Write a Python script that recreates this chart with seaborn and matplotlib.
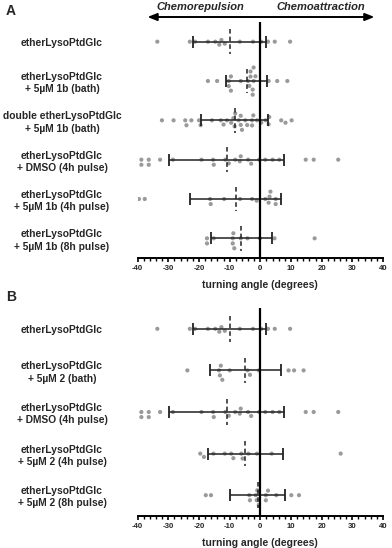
import numpy as np
import pandas as pd
import matplotlib
matplotlib.use("Agg")
import matplotlib.pyplot as plt
import matplotlib.transforms as mtransforms
import seaborn as sns
from matplotlib.ticker import MultipleLocator

sns.set_style("ticks")
plt.rcParams["font.family"] = ["Liberation Sans", "DejaVu Sans"]
plt.rcParams["axes.unicode_minus"] = False

# turning angles (degrees) per condition
control = [-33.6, -23.0, -21.3, -17.1, -14.7, -12.7, -13.4, -11.6, -6.7, -2.4,
           0.3, 2.5, 4.7, 9.7]
bath_1b = [-17.1, -14.1, -10.3, -10.3, -9.6, -9.6, -6.4, -4.0, -3.6, -3.2,
           -3.2, -2.5, -2.5, -2.2, -2.2, -1.6, 2.7, 5.5, 8.8]
double_bath_1b = [-32.1, -28.3, -24.5, -24.1, -22.5, -20.0, -19.5, -15.8, -12.9,
                  -12.0, -10.9, -9.5, -8.8, -8.4, -8.2, -7.1, -6.4, -6.4, -6.0,
                  -4.9, -4.3, -2.7, -2.3, -2.7, -1.1, 0.3, 1.7, 2.9, 2.7, 6.8,
                  8.2, 10.2]
dmso_4h = [-38.8, -38.8, -36.4, -36.4, -32.7, -28.5, -19.2, -15.4, -15.2, -10.3,
           -11.4, -8.2, -6.4, -6.7, -4.0, -3.0, -0.4, 1.6, 4.0, 6.2, 14.8,
           17.4, 25.4]
pulse4h_1b = [-39.6, -37.7, -16.4, -16.2, -11.8, -6.6, -2.7, -1.2, 1.6, 3.0,
              2.7, 3.3, 5.0, 5.0]
pulse8h_1b = [-17.4, -17.4, -15.2, -9.0, -9.0, -8.5, -8.8, -6.4, -4.2, -0.2,
              4.6, 17.7]
bath_2 = [-23.8, -12.9, -13.5, -13.2, -12.4, -10.0, -4.2, -3.4, -0.5, 9.2,
          11.0, 14.1]
pulse4h_2 = [-18.4, -19.6, -15.3, -11.6, -9.5, -8.8, -5.8, -6.2, -3.9, -1.1,
             3.7, 26.2]
pulse8h_2 = [-16.1, -17.8, -3.6, -3.4, -1.2, -1.0, -1.5, -0.5, 1.8, 2.5, 1.8,
             5.2, 10.1, 12.6]

labels_a = [
    "etherLysoPtdGlc",
    "etherLysoPtdGlc\n+ 5µM 1b (bath)",
    "double etherLysoPtdGlc\n+ 5µM 1b (bath)",
    "etherLysoPtdGlc\n+ DMSO (4h pulse)",
    "etherLysoPtdGlc\n+ 5µM 1b (4h pulse)",
    "etherLysoPtdGlc\n+ 5µM 1b (8h pulse)",
]
groups_a = [control, bath_1b, double_bath_1b, dmso_4h, pulse4h_1b, pulse8h_1b]
means_a = [-10.0, -4.5, -8.4, -11.0, -8.0, -6.2]
sds_a = [12.0, 6.6, 10.9, 18.7, 14.8, 9.9]

labels_b = [
    "etherLysoPtdGlc",
    "etherLysoPtdGlc\n+ 5µM 2 (bath)",
    "etherLysoPtdGlc\n+ DMSO (4h pulse)",
    "etherLysoPtdGlc\n+ 5µM 2 (4h pulse)",
    "etherLysoPtdGlc\n+ 5µM 2 (8h pulse)",
]
groups_b = [control, bath_2, dmso_4h, pulse4h_2, pulse8h_2]
means_b = [-10.0, -4.9, -11.0, -4.9, -0.8]
sds_b = [12.0, 11.5, 18.7, 12.2, 9.0]

x_ticks = [-40, -30, -20, -10, 0, 10, 20, 30, 40]

W, H = 392, 548


def draw_panel(ax, labels, groups, means, sds):
    df = pd.DataFrame({
        "group": [lab for lab, g in zip(labels, groups) for _ in g],
        "angle": [v for g in groups for v in g],
    })
    sns.swarmplot(data=df, x="angle", y="group", order=labels, orient="h",
                  color="#9a9a9a", size=3.0, linewidth=0.5, edgecolor="none",
                  ax=ax, zorder=2)

    pos = np.arange(len(labels))
    ax.errorbar(means, pos, xerr=sds, fmt="none", ecolor="#222222",
                elinewidth=1.1, capsize=4.6, capthick=1.3, zorder=4)
    ax.vlines(means, pos - 0.31, pos + 0.31, colors="#222222",
              linestyles=(0, (3, 2)), linewidth=1.1, zorder=4)
    ax.axvline(0, color="black", lw=1.6, zorder=5)

    ax.set_xlim(-40, 40)
    ax.set_ylim(len(labels) - 0.5, -0.5)
    ax.set_xticks(x_ticks)
    ax.set_xticklabels([str(t) for t in x_ticks], fontweight="bold", fontsize=5.6)
    ax.xaxis.set_minor_locator(MultipleLocator(2))
    ax.tick_params(axis="x", which="major", length=3.2, width=1.2,
                   direction="out", pad=1.5, color="black")
    ax.tick_params(axis="x", which="minor", length=1.8, width=1.0,
                   direction="out", color="black")

    ax.set_yticks(pos)
    ax.set_yticklabels(labels, ha="center", fontweight="bold", fontsize=7.4,
                       linespacing=1.28)
    ax.tick_params(axis="y", length=0, pad=54.5)

    ax.set_xlabel("turning angle (degrees)", fontweight="bold", fontsize=7.5,
                  labelpad=6)
    ax.set_ylabel("")
    for side in ["left", "top", "right"]:
        ax.spines[side].set_visible(False)
    ax.spines["bottom"].set_linewidth(1.4)
    ax.spines["bottom"].set_color("black")
    ax.set_facecolor("white")


fig = plt.figure(figsize=(W / 100, H / 100), dpi=100)
fig.patch.set_facecolor("white")

left, right = 137.7 / W, 383 / W
ax_a = fig.add_axes([left, 1 - 258 / H, right - left, (258 - 22) / H])
ax_b = fig.add_axes([left, 1 - 516 / H, right - left, (516 - 308) / H])

draw_panel(ax_a, labels_a, groups_a, means_a, sds_a)
draw_panel(ax_b, labels_b, groups_b, means_b, sds_b)

# direction arrow and captions above panel A (x in data, y in figure)
top_tr = mtransforms.blended_transform_factory(ax_a.transData, fig.transFigure)
ax_a.annotate("", xy=(37.2, 1 - 17 / H), xytext=(-36.8, 1 - 17 / H),
              xycoords=top_tr, textcoords=top_tr,
              arrowprops=dict(arrowstyle="<|-|>,head_length=0.55,head_width=0.22",
                              color="black", lw=1.4, shrinkA=0, shrinkB=0),
              annotation_clip=False)
ax_a.text(-19.5, 1 - 7.5 / H, "Chemorepulsion", transform=top_tr,
          ha="center", va="center", fontsize=8, fontweight="bold",
          fontstyle="italic")
ax_a.text(19.7, 1 - 7.5 / H, "Chemoattraction", transform=top_tr,
          ha="center", va="center", fontsize=8, fontweight="bold",
          fontstyle="italic")

fig.text(11 / W, 1 - 11 / H, "A", ha="center", va="center", fontsize=10,
         fontweight="bold")
fig.text(11.5 / W, 1 - 297 / H, "B", ha="center", va="center", fontsize=10,
         fontweight="bold")

fig.savefig("out.png", dpi=100, facecolor="white")
